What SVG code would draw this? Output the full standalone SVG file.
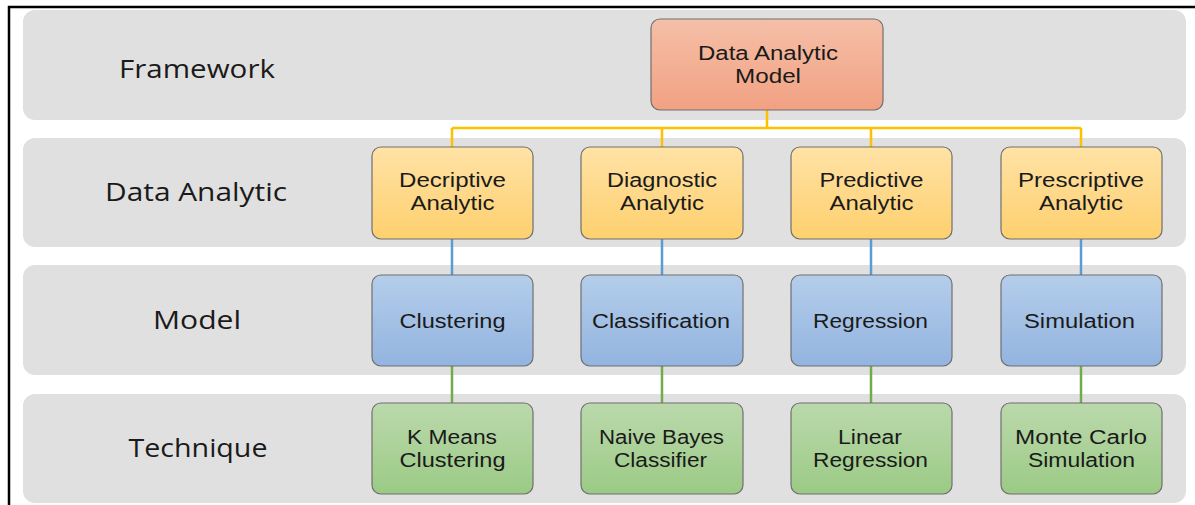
<svg xmlns="http://www.w3.org/2000/svg" width="1195" height="505" viewBox="0 0 1195 505">
<defs>
<linearGradient id="gRed" x1="0" y1="0" x2="0" y2="1"><stop offset="0" stop-color="#f5bfa8"/><stop offset="1" stop-color="#f2a182"/></linearGradient>
<linearGradient id="gYel" x1="0" y1="0" x2="0" y2="1"><stop offset="0" stop-color="#ffe2a6"/><stop offset="1" stop-color="#fed06e"/></linearGradient>
<linearGradient id="gBlu" x1="0" y1="0" x2="0" y2="1"><stop offset="0" stop-color="#b4cdea"/><stop offset="1" stop-color="#93b4e0"/></linearGradient>
<linearGradient id="gGrn" x1="0" y1="0" x2="0" y2="1"><stop offset="0" stop-color="#bbd9ac"/><stop offset="1" stop-color="#9bca85"/></linearGradient>
</defs>
<style>
.band{fill:#e0e0e0}
.box{stroke:#6f6f6f;stroke-width:1.2}
.lbl{font-family:"Open Sans","Liberation Sans",sans-serif;font-size:25px;fill:#1a1a1a;text-anchor:middle}
.t{font-family:"Liberation Sans","Open Sans",sans-serif;font-size:20px;fill:#1a1a1a;text-anchor:middle}
.cy{stroke:#ffc000;stroke-width:2.5;fill:none}
.cb{stroke:#5b9bd5;stroke-width:2.5;fill:none}
.cg{stroke:#70ad47;stroke-width:2.5;fill:none}
</style>
<rect x="0" y="0" width="1195" height="505" fill="#ffffff"/>
<path d="M9 505 V7 H1195" fill="none" stroke="#000" stroke-width="2.5"/>
<g id="bands">
<rect class="band" x="23" y="10" width="1163" height="110" rx="12"/>
<rect class="band" x="23" y="138" width="1163" height="109" rx="12"/>
<rect class="band" x="23" y="265" width="1163" height="110" rx="12"/>
<rect class="band" x="23" y="394" width="1163" height="109" rx="12"/>
</g>
<g id="labels">
<text class="lbl" x="197" y="78" textLength="156" lengthAdjust="spacingAndGlyphs">Framework</text>
<text class="lbl" x="196" y="201" textLength="182" lengthAdjust="spacingAndGlyphs">Data Analytic</text>
<text class="lbl" x="197" y="329" textLength="88" lengthAdjust="spacingAndGlyphs">Model</text>
<text class="lbl" x="198" y="457" textLength="139" lengthAdjust="spacingAndGlyphs">Technique</text>
</g>
<g id="connectors">
<path class="cy" d="M767 110 V128 M452 128 H1081 M452 128 V147 M662 128 V147 M871 128 V147 M1081 128 V147"/>
<path class="cb" d="M452 239 V275 M662 239 V275 M871 239 V275 M1081 239 V275"/>
<path class="cg" d="M452 366 V403 M662 366 V403 M871 366 V403 M1081 366 V403"/>
</g>
<g id="n-model"><rect class="box" x="651" y="19" width="232" height="91" rx="9" fill="url(#gRed)"/><text class="t" x="768" y="60" textLength="140" lengthAdjust="spacingAndGlyphs">Data Analytic</text><text class="t" x="768" y="83" textLength="66" lengthAdjust="spacingAndGlyphs">Model</text></g>
<g id="n-decriptive"><rect class="box" x="372" y="147" width="161" height="92" rx="9" fill="url(#gYel)"/><text class="t" x="452.5" y="187" textLength="107" lengthAdjust="spacingAndGlyphs">Decriptive</text><text class="t" x="452.5" y="210" textLength="84" lengthAdjust="spacingAndGlyphs">Analytic</text></g>
<g id="n-diagnostic"><rect class="box" x="581" y="147" width="162" height="92" rx="9" fill="url(#gYel)"/><text class="t" x="662" y="187" textLength="110" lengthAdjust="spacingAndGlyphs">Diagnostic</text><text class="t" x="662" y="210" textLength="84" lengthAdjust="spacingAndGlyphs">Analytic</text></g>
<g id="n-predictive"><rect class="box" x="791" y="147" width="161" height="92" rx="9" fill="url(#gYel)"/><text class="t" x="871.5" y="187" textLength="104" lengthAdjust="spacingAndGlyphs">Predictive</text><text class="t" x="871.5" y="210" textLength="84" lengthAdjust="spacingAndGlyphs">Analytic</text></g>
<g id="n-prescriptive"><rect class="box" x="1001" y="147" width="161" height="92" rx="9" fill="url(#gYel)"/><text class="t" x="1081" y="187" textLength="126" lengthAdjust="spacingAndGlyphs">Prescriptive</text><text class="t" x="1081" y="210" textLength="84" lengthAdjust="spacingAndGlyphs">Analytic</text></g>
<g id="n-clustering"><rect class="box" x="372" y="275" width="161" height="91" rx="9" fill="url(#gBlu)"/><text class="t" x="452.5" y="327.5" textLength="106" lengthAdjust="spacingAndGlyphs">Clustering</text></g>
<g id="n-classification"><rect class="box" x="581" y="275" width="162" height="91" rx="9" fill="url(#gBlu)"/><text class="t" x="661" y="327.5" textLength="138" lengthAdjust="spacingAndGlyphs">Classification</text></g>
<g id="n-regression"><rect class="box" x="791" y="275" width="161" height="91" rx="9" fill="url(#gBlu)"/><text class="t" x="870.5" y="327.5" textLength="115" lengthAdjust="spacingAndGlyphs">Regression</text></g>
<g id="n-simulation"><rect class="box" x="1001" y="275" width="161" height="91" rx="9" fill="url(#gBlu)"/><text class="t" x="1079.5" y="327.5" textLength="111" lengthAdjust="spacingAndGlyphs">Simulation</text></g>
<g id="n-kmeans"><rect class="box" x="372" y="403" width="161" height="91" rx="9" fill="url(#gGrn)"/><text class="t" x="452" y="443.5" textLength="90" lengthAdjust="spacingAndGlyphs">K Means</text><text class="t" x="452.5" y="467" textLength="106" lengthAdjust="spacingAndGlyphs">Clustering</text></g>
<g id="n-naive"><rect class="box" x="581" y="403" width="162" height="91" rx="9" fill="url(#gGrn)"/><text class="t" x="661.5" y="443.5" textLength="125" lengthAdjust="spacingAndGlyphs">Naive Bayes</text><text class="t" x="660.5" y="467" textLength="93" lengthAdjust="spacingAndGlyphs">Classifier</text></g>
<g id="n-linear"><rect class="box" x="791" y="403" width="161" height="91" rx="9" fill="url(#gGrn)"/><text class="t" x="870" y="443.5" textLength="64" lengthAdjust="spacingAndGlyphs">Linear</text><text class="t" x="870.5" y="467" textLength="115" lengthAdjust="spacingAndGlyphs">Regression</text></g>
<g id="n-montecarlo"><rect class="box" x="1001" y="403" width="161" height="91" rx="9" fill="url(#gGrn)"/><text class="t" x="1081" y="443.5" textLength="132" lengthAdjust="spacingAndGlyphs">Monte Carlo</text><text class="t" x="1081.5" y="467" textLength="107" lengthAdjust="spacingAndGlyphs">Simulation</text></g>
</svg>
